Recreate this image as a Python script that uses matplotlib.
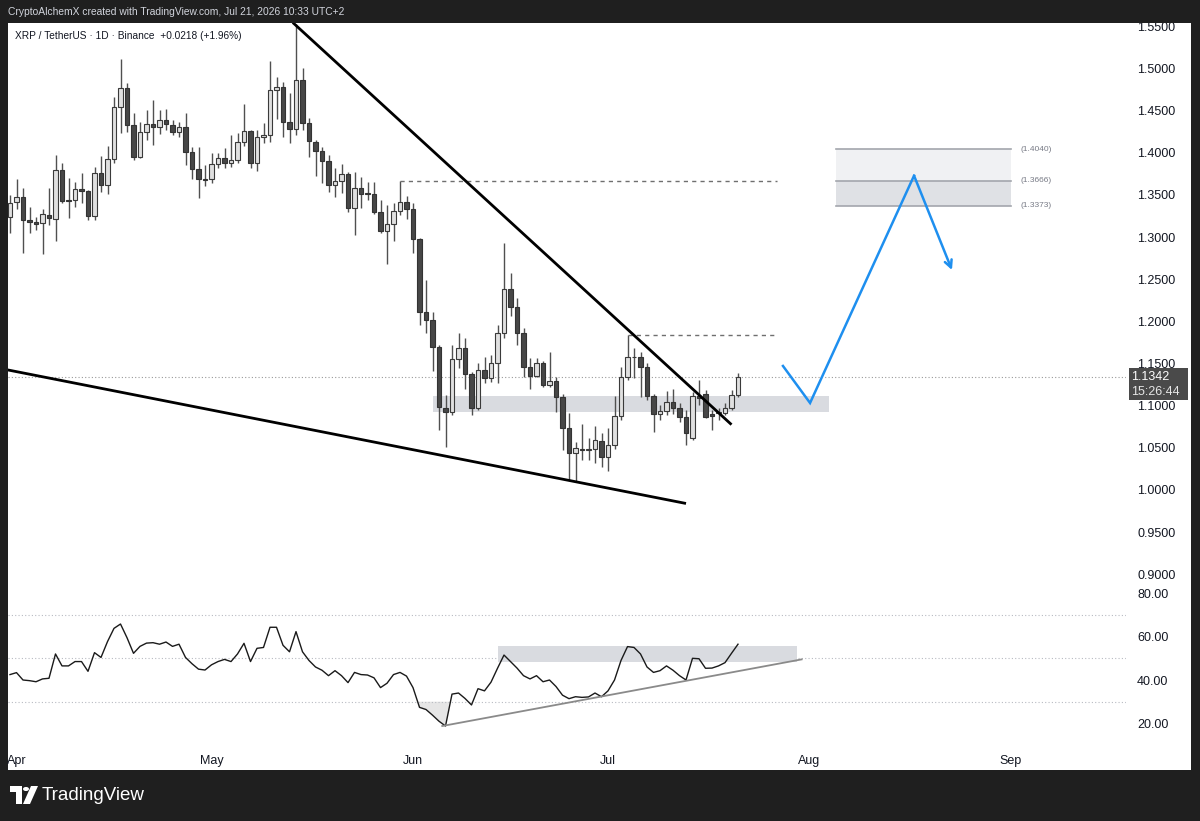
import numpy as np
import pandas as pd
import matplotlib
matplotlib.use("Agg")
import matplotlib.pyplot as plt
import matplotlib.dates as mdates
import matplotlib.transforms as mtransforms
from matplotlib.patches import Rectangle, Circle, Polygon

plt.rcParams['font.family'] = ['Liberation Sans', 'DejaVu Sans']

# daily XRP/USDT candles, Mar 31 -> Jul 21
dates = pd.date_range("2026-03-31", "2026-07-21", freq="D")
opens = [1.3242, 1.3416, 1.3479, 1.3202, 1.3182, 1.3163, 1.3262, 1.3211, 1.3796, 1.3440,
         1.3440, 1.3567, 1.3550, 1.3250, 1.3756, 1.3618, 1.3926, 1.4539, 1.4765, 1.4329,
         1.3946, 1.4250, 1.4341, 1.4302, 1.4389, 1.4329, 1.4243, 1.4309, 1.4013, 1.3804,
         1.3692, 1.3685, 1.3863, 1.3941, 1.3875, 1.3914, 1.4128, 1.4258, 1.3875, 1.4183,
         1.4211, 1.4744, 1.4784, 1.4368, 1.4278, 1.4863, 1.4349, 1.4131, 1.4021, 1.3906,
         1.3618, 1.3669, 1.3745, 1.3348, 1.3578, 1.3519, 1.3507, 1.3301, 1.3075, 1.3155,
         1.3309, 1.3412, 1.3333, 1.2977, 1.2115, 1.2016, 1.1692, 1.0976, 1.0928, 1.1550,
         1.1681, 1.1376, 1.0969, 1.1423, 1.1325, 1.1510, 1.1858, 1.2380, 1.2174, 1.1866,
         1.1462, 1.1355, 1.1503, 1.1245, 1.1293, 1.1106, 1.0739, 1.0435, 1.0482, 1.0475,
         1.0482, 1.0585, 1.0395, 1.0530, 1.0877, 1.1344, 1.1574, 1.1574, 1.1455, 1.1115,
         1.0901, 1.0933, 1.1047, 1.0969, 1.0862, 1.0613, 1.1115, 1.1135, 1.0901, 1.0914,
         1.0917, 1.0976, 1.1127]
highs = [1.3499, 1.3685, 1.3578, 1.3360, 1.3242, 1.3329, 1.3578, 1.3970, 1.3875, 1.3697,
         1.3657, 1.3756, 1.3558, 1.3835, 1.3962, 1.4084, 1.4665, 1.5109, 1.4831, 1.4475,
         1.4368, 1.4507, 1.4626, 1.4507, 1.4516, 1.4389, 1.4368, 1.4468, 1.4072, 1.4072,
         1.3855, 1.3994, 1.4001, 1.4053, 1.4211, 1.4231, 1.4578, 1.4270, 1.4270, 1.4357,
         1.5092, 1.4895, 1.4843, 1.4705, 1.5527, 1.5002, 1.4412, 1.4151, 1.4072, 1.3973,
         1.3816, 1.3867, 1.3775, 1.3775, 1.3709, 1.3657, 1.3657, 1.3440, 1.3380, 1.3401,
         1.3666, 1.3487, 1.3408, 1.2990, 1.2491, 1.2115, 1.1720, 1.1127, 1.1720, 1.1866,
         1.1799, 1.1403, 1.1503, 1.1581, 1.1601, 1.1957, 1.2933, 1.2570, 1.2281, 1.1918,
         1.1562, 1.1562, 1.1533, 1.1640, 1.1344, 1.1135, 1.0909, 1.0573, 1.0783, 1.0613,
         1.0759, 1.0672, 1.0732, 1.1115, 1.1455, 1.1844, 1.1681, 1.1640, 1.1510, 1.1139,
         1.1008, 1.1178, 1.1194, 1.1035, 1.0949, 1.1166, 1.1304, 1.1186, 1.0949, 1.0972,
         1.1032, 1.1186, 1.1384]
lows = [1.3045, 1.3329, 1.2807, 1.3045, 1.3084, 1.2799, 1.3143, 1.2957, 1.3401, 1.3223,
        1.3360, 1.3401, 1.3202, 1.3202, 1.3538, 1.3511, 1.3875, 1.4231, 1.4250, 1.3914,
        1.3934, 1.4151, 1.4092, 1.4223, 1.4270, 1.4211, 1.4191, 1.3855, 1.3685, 1.3460,
        1.3606, 1.3638, 1.3816, 1.3816, 1.3835, 1.3875, 1.4080, 1.3816, 1.3787, 1.4119,
        1.4128, 1.4397, 1.4191, 1.4119, 1.4211, 1.4270, 1.3950, 1.3724, 1.3645, 1.3538,
        1.3479, 1.3519, 1.3301, 1.3024, 1.3341, 1.3440, 1.3274, 1.3045, 1.2680, 1.2953,
        1.3262, 1.3211, 1.2807, 1.1957, 1.1866, 1.1415, 1.0711, 1.0513, 1.0889, 1.1443,
        1.1194, 1.0889, 1.0949, 1.1265, 1.1284, 1.1272, 1.1799, 1.2064, 1.1720, 1.1344,
        1.1194, 1.1344, 1.1225, 1.1218, 1.0928, 1.0474, 1.0118, 1.0098, 1.0356, 1.0356,
        1.0324, 1.0276, 1.0229, 1.0482, 1.0830, 1.1304, 1.1325, 1.1099, 1.1067, 1.0691,
        1.0830, 1.0889, 1.0901, 1.0810, 1.0533, 1.0593, 1.1008, 1.0854, 1.0711, 1.0830,
        1.0889, 1.0949, 1.1103]
closes = [1.3408, 1.3479, 1.3202, 1.3182, 1.3155, 1.3270, 1.3223, 1.3796, 1.3431, 1.3430,
          1.3567, 1.3550, 1.3250, 1.3756, 1.3618, 1.3926, 1.4539, 1.4765, 1.4329, 1.3946,
          1.4250, 1.4341, 1.4302, 1.4389, 1.4341, 1.4243, 1.4309, 1.4013, 1.3804, 1.3685,
          1.3677, 1.3863, 1.3941, 1.3882, 1.3914, 1.4128, 1.4258, 1.3875, 1.4191, 1.4211,
          1.4744, 1.4784, 1.4368, 1.4278, 1.4863, 1.4349, 1.4139, 1.4024, 1.3906, 1.3618,
          1.3669, 1.3745, 1.3341, 1.3586, 1.3511, 1.3507, 1.3301, 1.3075, 1.3155, 1.3309,
          1.3412, 1.3329, 1.2977, 1.2115, 1.2016, 1.1692, 1.0988, 1.0928, 1.1550, 1.1681,
          1.1376, 1.0969, 1.1423, 1.1325, 1.1510, 1.1858, 1.2380, 1.2174, 1.1866, 1.1462,
          1.1355, 1.1503, 1.1245, 1.1293, 1.1106, 1.0739, 1.0435, 1.0494, 1.0470, 1.0482,
          1.0593, 1.0395, 1.0530, 1.0877, 1.1344, 1.1574, 1.1580, 1.1455, 1.1115, 1.0901,
          1.0933, 1.1047, 1.0969, 1.0862, 1.0672, 1.1115, 1.1091, 1.0869, 1.0881, 1.0928,
          1.0976, 1.1127, 1.1342]
rsi = [42.5, 43.4, 40.0, 39.7, 39.2, 40.5, 40.8, 52.0, 46.5, 46.5,
       48.5, 48.5, 44.0, 52.6, 50.4, 57.7, 63.8, 65.8, 59.5, 52.3,
       55.5, 57.0, 57.2, 56.5, 57.5, 55.5, 56.5, 50.4, 47.5, 45.0,
       44.6, 47.0, 48.5, 49.5, 48.5, 52.0, 56.9, 48.5, 54.6, 55.0,
       64.3, 64.3, 56.0, 53.0, 62.3, 53.0, 49.0, 46.0, 44.5, 42.0,
       44.3, 42.0, 38.8, 43.5, 42.5, 42.3, 41.0, 36.5, 38.5, 42.5,
       43.5, 41.8, 36.5, 27.4, 26.4, 23.8, 21.0, 18.8, 33.5, 34.0,
       31.5, 28.5, 36.0, 35.0, 39.0, 45.4, 51.5, 48.5, 45.5, 42.0,
       40.5, 42.0, 39.2, 40.0, 37.0, 33.0, 31.4, 32.3, 32.0, 32.2,
       34.0, 32.3, 35.0, 40.0, 49.0, 55.4, 55.0, 52.0, 46.0, 43.5,
       44.3, 46.5, 44.5, 42.0, 40.0, 50.0, 49.8, 45.4, 45.5, 46.5,
       48.0, 52.3, 56.5]

last_price = 1.1342
countdown = "15:26:44"

# drawings on the chart
desc_line = (["2026-05-13 12:00", "2026-07-20 00:00"], [1.5545, 1.0775])
supp_line = (["2026-03-30", "2026-07-13"], [1.1434, 0.9840])
zone_dates = ["2026-06-04", "2026-08-04"]
zone_prices = [1.0921, 1.1118]
prev_high1 = (["2026-05-30", "2026-07-27"], 1.3666)
prev_high2 = (["2026-07-04", "2026-07-27"], 1.1844)
target_dates = ["2026-08-05", "2026-09-01"]
target_levels = [1.3373, 1.3666, 1.4040]
path_dates = ["2026-07-27 22:00", "2026-08-01 02:00", "2026-08-17 02:00", "2026-08-22 22:00"]
path_prices = [1.1471, 1.1032, 1.3728, 1.2609]
rsi_box_dates = ["2026-06-14", "2026-07-30"]
rsi_box = [48.4, 55.8]
rsi_trend = (["2026-06-05 12:00", "2026-07-30 19:00"], [18.8, 49.5])

W, H = 1200, 821
fig = plt.figure(figsize=(W / 100, H / 100), dpi=100)
fig.patch.set_facecolor('#1f1f1f')

def fx(x): return x / W
def fy(y): return 1 - y / H

def d2n(s):
    return mdates.date2num(pd.to_datetime(s, format='mixed'))

# white chart background
fig.add_artist(Rectangle((fx(8), fy(770)), fx(1191) - fx(8), fy(23) - fy(770),
                         transform=fig.transFigure, facecolor='white', edgecolor='none', zorder=-1))

ax = fig.add_axes([fx(8), fy(585), fx(1126) - fx(8), fy(23) - fy(585)])
ax2 = fig.add_axes([fx(8), fy(745), fx(1126) - fx(8), fy(585) - fy(745)], sharex=ax)

x = mdates.date2num(dates)
o = np.array(opens); h = np.array(highs); l = np.array(lows); c = np.array(closes)
up = c >= o

# candles
ax.vlines(x, l, h, color='#505050', lw=1, zorder=2)
body_lo = np.minimum(o, c)
body_h = np.maximum(np.abs(c - o), 0.0008)
ax.bar(x[up], body_h[up], bottom=body_lo[up], width=0.68, color='#e0e0e0',
       edgecolor='#3a3a3a', linewidth=0.8, zorder=3)
ax.bar(x[~up], body_h[~up], bottom=body_lo[~up], width=0.68, color='#474747',
       edgecolor='#333333', linewidth=0.8, zorder=3)

# support zone
z0, z1 = d2n(zone_dates[0]), d2n(zone_dates[1])
ax.add_patch(Rectangle((z0, zone_prices[0]), z1 - z0, zone_prices[1] - zone_prices[0],
                       facecolor='#d9dbe0', edgecolor='none', zorder=1))

# trendlines
ax.plot(d2n(desc_line[0]), desc_line[1], color='black', lw=2, zorder=4, solid_capstyle='butt')
ax.plot(d2n(supp_line[0]), supp_line[1], color='black', lw=2, zorder=4, solid_capstyle='butt')

# previous highs
ax.plot(d2n(prev_high1[0]), [prev_high1[1]] * 2, color='#6f6f6f', lw=1, ls=(0, (3, 3)), zorder=2)
ax.plot(d2n(prev_high2[0]), [prev_high2[1]] * 2, color='#6f6f6f', lw=1, ls=(0, (3, 3)), zorder=2)

# last price line
ax.axhline(last_price, color='#9a9a9a', lw=0.8, ls=(0, (1, 2)), zorder=1)

# target box
t0, t1 = d2n(target_dates[0]), d2n(target_dates[1])
ax.add_patch(Rectangle((t0, target_levels[1]), t1 - t0, target_levels[2] - target_levels[1],
                       facecolor='#f0f1f3', edgecolor='none', zorder=1))
ax.add_patch(Rectangle((t0, target_levels[0]), t1 - t0, target_levels[1] - target_levels[0],
                       facecolor='#dfe1e5', edgecolor='none', zorder=1))
for lv in target_levels:
    ax.plot([t0, t1], [lv, lv], color='#a3a6ad', lw=1.2, zorder=2)
    ax.text(t1 + 1.4, lv, "(%.4f)" % lv, fontsize=6, color='#787b86', va='center', ha='left')

# projected path
px = d2n(path_dates)
ax.plot(px[:3], path_prices[:3], color='#1e8fef', lw=1.8, zorder=5, solid_joinstyle='miter')
ax.annotate('', xy=(px[3], path_prices[3]), xytext=(px[2], path_prices[2]),
            arrowprops=dict(arrowstyle='->', color='#1e8fef', lw=1.8, mutation_scale=13,
                            shrinkA=0, shrinkB=0), zorder=5)

# axes formatting
xmin = d2n("2026-04-01") - 1.3077
xmax = d2n("2026-04-01") + 170.69
ax.set_xlim(xmin, xmax)
ax.set_ylim(0.8873, 1.5539)
ax.set_yticks(np.arange(0.90, 1.5501, 0.05))
ax.yaxis.set_major_formatter(matplotlib.ticker.FormatStrFormatter('%.4f'))
ax.yaxis.tick_right()
ax.tick_params(axis='y', length=0, pad=8, labelsize=9, labelcolor='#131722')
ax.tick_params(axis='x', length=0, labelbottom=False)
for a in (ax, ax2):
    for s in a.spines.values():
        s.set_visible(False)
    a.set_facecolor('none')

# price tag
blend = mtransforms.blended_transform_factory(ax.transAxes, ax.transData)
ax.add_patch(Rectangle((1.0027, 1.1067), 0.0528, 0.038, transform=blend, clip_on=False,
                       facecolor='#4a4a4a', edgecolor='none', zorder=6))
ax.text(1.0045, last_price, "%.4f" % last_price, transform=blend, color='white', fontsize=9,
        va='center', ha='left', zorder=7, clip_on=False)
ax.text(1.0045, 1.1163, countdown, transform=blend, color='#e6e6e6', fontsize=9,
        va='center', ha='left', zorder=7, clip_on=False)

# RSI pane
ax2.plot(x, rsi, color='#1a1a1a', lw=1, zorder=3)
r = np.array(rsi)
ax2.fill_between(x, r, 30, where=r < 30, interpolate=True, color='#e6e6e6', zorder=1, lw=0)
for lv in (70, 50, 30):
    ax2.axhline(lv, color='#b8bbc2', lw=0.8, ls=(0, (1, 2)), zorder=1)
b0, b1 = d2n(rsi_box_dates[0]), d2n(rsi_box_dates[1])
ax2.add_patch(Rectangle((b0, rsi_box[0]), b1 - b0, rsi_box[1] - rsi_box[0],
                        facecolor='#d9dbe0', edgecolor='none', zorder=2))
ax2.plot(d2n(rsi_trend[0]), rsi_trend[1], color='#8a8a8a', lw=1.3, zorder=4)
ax2.set_ylim(10.05, 83.78)
ax2.set_yticks([20, 40, 60, 80])
ax2.yaxis.set_major_formatter(matplotlib.ticker.FormatStrFormatter('%.2f'))
ax2.yaxis.tick_right()
ax2.tick_params(axis='y', length=0, pad=8, labelsize=9, labelcolor='#131722')
ax2.xaxis.set_major_locator(mdates.MonthLocator())
ax2.xaxis.set_major_formatter(mdates.DateFormatter('%b'))
ax2.tick_params(axis='x', length=0, pad=7, labelsize=9, labelcolor='#131722')

# legend line
fig.text(fx(15), fy(36), "XRP / TetherUS \u00b7 1D \u00b7 Binance  +0.0218 (+1.96%)",
         fontsize=7.3, color='#131722', va='center', ha='left')

# header band (covers clipped top label)
fig.add_artist(Rectangle((0, fy(23)), 1, 1 - fy(23), transform=fig.transFigure,
                         facecolor='#1f1f1f', edgecolor='none', zorder=10))
fig.text(fx(8), fy(12), "CryptoAlchemX created with TradingView.com, Jul 21, 2026 10:33 UTC+2",
         fontsize=7.4, color='#d1d4dc', va='center', ha='left', zorder=11)

# footer logo
fig.add_artist(Rectangle((fx(10), fy(792)), fx(22) - fx(10), fy(786) - fy(792),
                         transform=fig.transFigure, facecolor='white', edgecolor='none', zorder=11))
fig.add_artist(Rectangle((fx(16), fy(804)), fx(22) - fx(16), fy(786) - fy(804),
                         transform=fig.transFigure, facecolor='white', edgecolor='none', zorder=11))
fig.add_artist(Circle((fx(26), fy(789)), 3 / W, transform=fig.transFigure,
                      facecolor='white', edgecolor='none', zorder=11))
fig.add_artist(Polygon([(fx(31), fy(786)), (fx(38), fy(786)), (fx(30), fy(804)), (fx(23), fy(804))],
                       closed=True, transform=fig.transFigure, facecolor='white',
                       edgecolor='none', zorder=11))
fig.text(fx(42), fy(795), "TradingView", fontsize=13.5, color='white', va='center',
         ha='left', zorder=11)

fig.savefig("out.png", dpi=100, facecolor=fig.get_facecolor())
